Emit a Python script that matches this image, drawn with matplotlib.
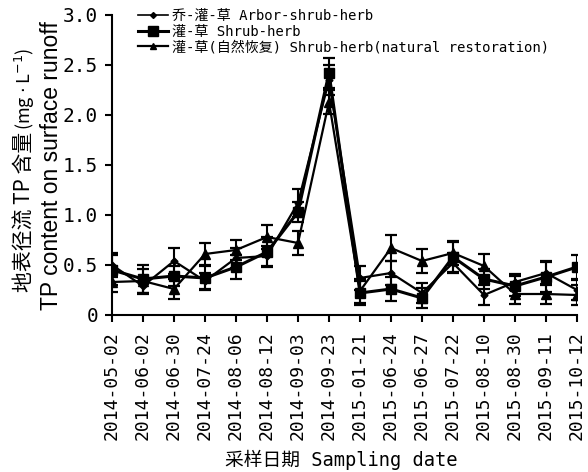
import matplotlib
matplotlib.use("Agg")
import matplotlib.pyplot as plt
from matplotlib.lines import Line2D
import numpy as np

dates = ["2014-05-02", "2014-06-02", "2014-06-30", "2014-07-24", "2014-08-06",
         "2014-08-12", "2014-09-03", "2014-09-23", "2015-01-21", "2015-06-24",
         "2015-06-27", "2015-07-22", "2015-08-10", "2015-08-30", "2015-09-11",
         "2015-10-12"]

arbor = [0.50, 0.29, 0.54, 0.34, 0.57, 0.59, 1.12, 2.35, 0.37, 0.42, 0.22, 0.52, 0.20, 0.33, 0.42, 0.25]
arbor_err = [0.12, 0.08, 0.13, 0.08, 0.10, 0.10, 0.14, 0.15, 0.12, 0.12, 0.10, 0.10, 0.10, 0.08, 0.12, 0.10]

shrub = [0.45, 0.36, 0.39, 0.37, 0.48, 0.63, 1.03, 2.42, 0.22, 0.26, 0.17, 0.58, 0.36, 0.29, 0.38, 0.48]
shrub_err = [0.15, 0.14, 0.10, 0.12, 0.12, 0.15, 0.10, 0.15, 0.12, 0.12, 0.10, 0.15, 0.10, 0.10, 0.15, 0.12]

natural = [0.33, 0.34, 0.26, 0.61, 0.65, 0.78, 0.72, 2.13, 0.24, 0.67, 0.54, 0.62, 0.49, 0.21, 0.21, 0.20]
natural_err = [0.10, 0.12, 0.10, 0.11, 0.10, 0.12, 0.12, 0.12, 0.12, 0.13, 0.12, 0.12, 0.12, 0.10, 0.10, 0.10]

labels = ["乔-灌-草 Arbor-shrub-herb", "灌-草 Shrub-herb",
          "灌-草(自然恢复) Shrub-herb(natural restoration)"]

yticks = [0, 0.5, 1.0, 1.5, 2.0, 2.5, 3.0]
yticklabels = ["0", "0.5", "1.0", "1.5", "2.0", "2.5", "3.0"]

MONO = ["DejaVu Sans Mono", "Noto Sans CJK SC"]
plt.rcParams['font.family'] = MONO
plt.rcParams['axes.linewidth'] = 1.5

fig = plt.figure(figsize=(5.88, 4.72), dpi=100)
ax = fig.add_axes([112/588, 1-315/472, 465/588, 300/472])

x = np.arange(len(dates))
ax.errorbar(x, arbor, yerr=arbor_err, color='black', marker='D', markersize=3.5,
            lw=1.6, capsize=4, elinewidth=1.5, capthick=1.6)
ax.errorbar(x, shrub, yerr=shrub_err, color='black', marker='s', markersize=6.5,
            lw=2.2, capsize=4, elinewidth=1.5, capthick=1.6)
ax.errorbar(x, natural, yerr=natural_err, color='black', marker='^', markersize=6.5,
            lw=1.6, capsize=4, elinewidth=1.5, capthick=1.6)

handles = [
    Line2D([], [], color='black', marker='D', markersize=3, lw=1.2),
    Line2D([], [], color='black', marker='s', markersize=6.5, lw=2.2),
    Line2D([], [], color='black', marker='^', markersize=4.5, lw=1.6),
]

ax.set_xlim(0, len(dates)-1)
ax.set_ylim(0, 3.0)
ax.set_xticks(x)
ax.set_xticklabels(dates, rotation=90, fontsize=13)
ax.set_yticks(yticks)
ax.set_yticklabels(yticklabels, fontsize=14)
ax.spines['top'].set_visible(False)
ax.spines['right'].set_visible(False)
ax.tick_params(axis='both', direction='out', length=5, width=1.5, color='black')
ax.tick_params(axis='x', pad=7)
ax.tick_params(axis='y', pad=5)

leg = ax.legend(handles, labels, loc='upper left', bbox_to_anchor=(0.055, 1.02), frameon=False,
                fontsize=10.1, handlelength=2.2, handletextpad=0.25, labelspacing=0.12,
                borderaxespad=0, borderpad=0.0)

fig.text(341/588, 1-460/472, "采样日期 Sampling date", ha='center', va='center', fontsize=13.5)

fig.canvas.draw()
r = fig.canvas.get_renderer()
t1 = fig.text(25/588, 1-292/472, "地表径流 TP 含量", rotation=90, ha='center', va='bottom',
              fontsize=15, family=["Noto Sans CJK SC", "DejaVu Sans"])
bb = t1.get_window_extent(r)
t2 = fig.text(25/588, (bb.y1 + 2)/472, r"(mg $\cdot$ L$^{-1}$)", rotation=90, ha='center',
              va='bottom', fontsize=13, family=["Noto Sans CJK SC", "DejaVu Sans"])
fig.text(52/588, 1-166/472, "TP content on surface runoff", rotation=90, ha='center',
         va='center', fontsize=16.5, family=["Liberation Sans"])

fig.savefig("out.png", dpi=100)
